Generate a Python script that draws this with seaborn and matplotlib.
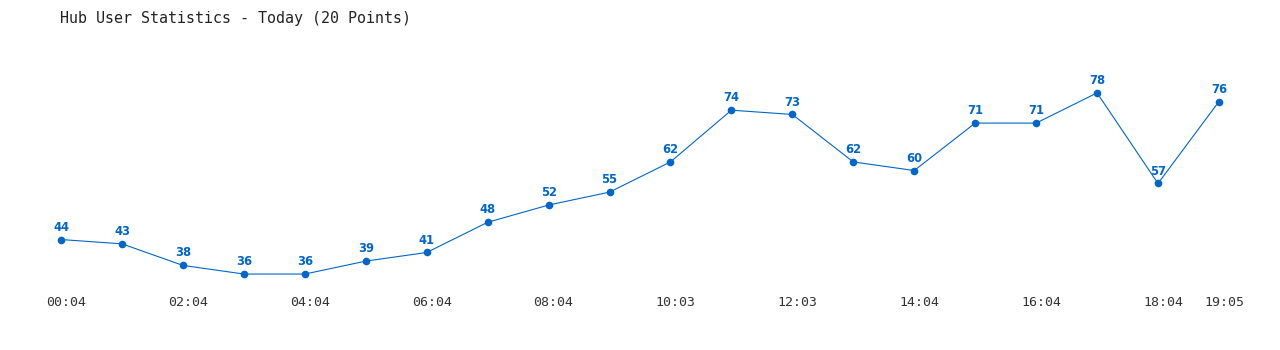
import matplotlib
matplotlib.use("Agg")
import matplotlib.pyplot as plt
import matplotlib.transforms as mtransforms
import seaborn as sns
import pandas as pd

times = ["00:04", "01:04", "02:04", "03:04", "04:04", "05:04", "06:04", "07:04", "08:04", "09:04",
         "10:03", "11:03", "12:03", "13:04", "14:04", "15:04", "16:04", "17:04", "18:04", "19:05"]
users = [44, 43, 38, 36, 36, 39, 41, 48, 52, 55, 62, 74, 73, 62, 60, 71, 71, 78, 57, 76]
title = "Hub User Statistics - Today (20 Points)"

sns.set_theme(style="white")
plt.rcParams['font.family'] = ['DejaVu Sans', 'DejaVu Sans Mono']

df = pd.DataFrame({"idx": range(len(users)), "time": times, "users": users})

W, H = 1280, 350
fig = plt.figure(figsize=(W / 100, H / 100), dpi=100)
ax = fig.add_axes([30 / W, 1 - 290 / H, 1220 / W, 240 / H])
color = "#0066CC"
sns.lineplot(data=df, x="idx", y="users", ax=ax, color=color, linewidth=0.8,
             marker="o", markersize=5.5, markeredgewidth=0, markerfacecolor=color)

for i, v in zip(df["idx"], df["users"]):
    ax.annotate(str(v), (i, v), xytext=(0, 4.3), textcoords="offset points",
                ha="center", va="bottom", color=color, fontsize=8.3, fontweight="bold",
                family="DejaVu Sans")

ax.set_xlim(-0.51, 19.51)
ax.set_ylim(32.3, 87.95)
tick_idx = list(range(0, len(times) - 1, 2)) + [len(times) - 1]
ax.set_xticks(tick_idx)
ax.set_xticklabels([times[i] for i in tick_idx], family="DejaVu Sans Mono", fontsize=9.5, color="#333333")
ax.tick_params(axis="x", length=0, pad=4)
shift = mtransforms.ScaledTranslation(5 / 100, 0, fig.dpi_scale_trans)
for lab in ax.get_xticklabels():
    lab.set_transform(lab.get_transform() + shift)
ax.set_yticks([])
ax.set_xlabel("")
ax.set_ylabel("")
for s in ax.spines.values():
    s.set_visible(False)

fig.text(60 / W, 1 - 18 / H, title, family="DejaVu Sans Mono", fontsize=10.8, color="#222222",
         ha="left", va="center")

fig.savefig("out.png", dpi=100, facecolor="white")
